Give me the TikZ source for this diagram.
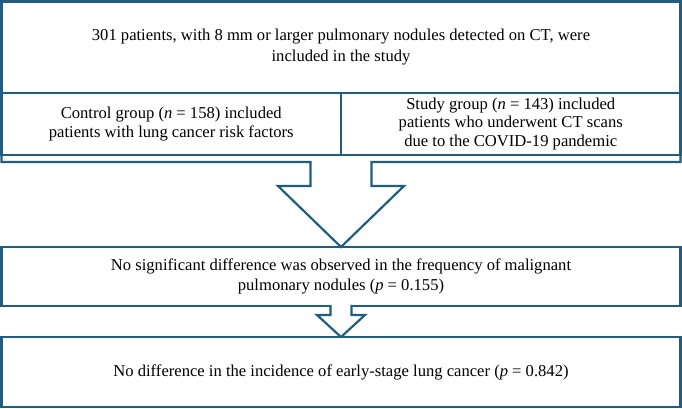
\documentclass[tikz,border=0pt]{standalone}
\usepackage{fontspec}
\setmainfont{Liberation Serif}
\usetikzlibrary{positioning,calc}
\definecolor{flowblue}{RGB}{31,94,126}

\begin{document}
\begin{tikzpicture}[
  x=1pt, y=1pt,
  font=\fontsize{16.6}{20.5}\selectfont,
  flowbox/.style={draw=flowblue, line width=2.2pt, fill=white, outer sep=0pt, inner sep=0pt, align=center, anchor=north west},
  groupbox/.style={flowbox, minimum width=339.5, minimum height=62, font=\fontsize{16.6}{18.5}\selectfont},
  flowline/.style={draw=flowblue, line width=2.2pt, line join=miter},
  bigarrow/.style={flowline, fill=white}
]
  \useasboundingbox (0,0) rectangle (682,409);
  % whole cohort, split into the two groups
  \node[flowbox, minimum width=679, minimum height=91.5] (cohort) at (1.5,407.5)
    {301 patients, with 8 mm or larger pulmonary nodules detected on CT, were\\included in the study};
  \node[groupbox] (control) at (cohort.south west)
    {Control group (\textit{n} = 158) included\\patients with lung cancer risk factors};
  \node[groupbox] (study) at (control.north east)
    {Study group (\textit{n} = 143) included\\patients who underwent CT scans\\due to the COVID-19 pandemic};
  % results
  \node[flowbox, minimum width=679, minimum height=59] (malig) at (1.5,162)
    {No significant difference was observed in the frequency of malignant\\pulmonary nodules (\textit{p} = 0.155)};
  \node[flowbox, minimum width=679, minimum height=70] (early) at (1.5,72)
    {No difference in the incidence of early-stage lung cancer (\textit{p} = 0.842)};
  % frame round the groups, opening into the big arrow
  \draw[flowline] (control.south west) -- ++(0,-7)
    -- ($(malig.north)+(-30.5,85)$) -- ($(malig.north)+(-30.5,61)$)
    -- ($(malig.north)+(-63,61)$) -- (malig.north)
    -- ($(malig.north)+(63,61)$) -- ($(malig.north)+(30.5,61)$)
    -- ($(malig.north)+(30.5,85)$) -- ($(study.south east)+(0,-7)$)
    -- (study.south east);
  % small arrow
  \draw[bigarrow] ($(malig.south)+(-10.5,1.1)$) -- ($(early.north)+(-10.5,22)$)
    -- ($(early.north)+(-24,22)$) -- (early.north)
    -- ($(early.north)+(24,22)$) -- ($(early.north)+(10.5,22)$)
    -- ($(malig.south)+(10.5,1.1)$);
\end{tikzpicture}
\end{document}
